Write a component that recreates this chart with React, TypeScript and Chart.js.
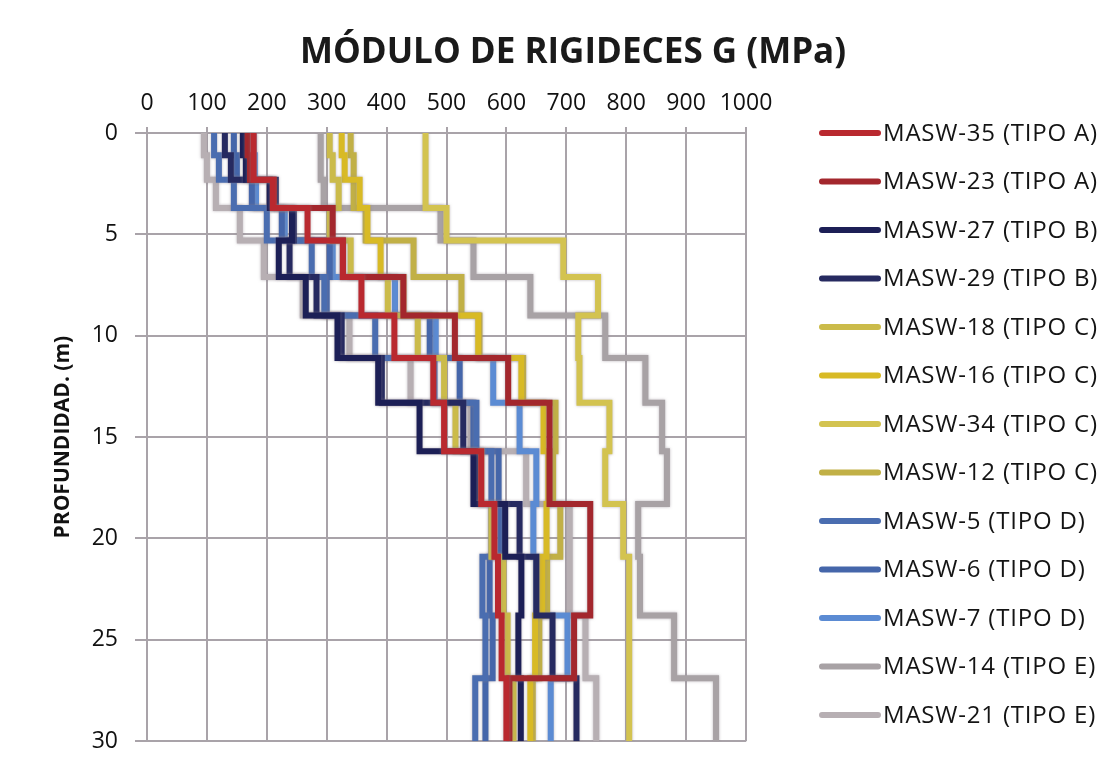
import React, { useEffect, useRef } from "react";
import { Chart, registerables } from "chart.js";

Chart.register(...registerables);

const TITLE = "MÓDULO DE RIGIDECES G (MPa)";
const Y_TITLE = "PROFUNDIDAD. (m)";

// layer boundaries (m) shared by every profile
const DEPTHS = [0, 1.1, 2.3, 3.7, 5.3, 7.1, 9.0, 11.1, 13.3, 15.7, 18.3, 20.9, 23.8, 26.9, 30];

// shear modulus G (MPa) per layer
const masw35 = [178, 178, 210, 268, 327, 358, 413, 478, 496, 558, 580, 586, 592, 600];
const masw23 = [168, 172, 212, 310, 327, 428, 514, 603, 672, 672, 740, 740, 713, 605];
const masw27 = [160, 165, 205, 242, 220, 265, 318, 386, 455, 545, 598, 625, 620, 624];
const masw29 = [130, 140, 215, 245, 238, 283, 325, 392, 528, 548, 622, 650, 677, 717];
const masw18 = [305, 310, 320, 305, 340, 402, 452, 496, 515, 558, 575, 595, 602, 612];
const masw16 = [325, 330, 355, 368, 390, 428, 553, 625, 662, 670, 667, 660, 648, 640];
const masw34 = [465, 465, 465, 500, 695, 753, 720, 722, 772, 765, 795, 805, 805, 805];
const masw12 = [340, 345, 345, 365, 445, 525, 555, 628, 682, 678, 690, 668, 655, 644];
const masw5 = [112, 120, 145, 200, 275, 296, 381, 480, 550, 575, 575, 560, 565, 548];
const masw6 = [145, 150, 175, 225, 305, 300, 472, 522, 545, 587, 590, 572, 577, 565];
const masw7 = [178, 180, 182, 230, 310, 414, 482, 578, 622, 650, 645, 650, 702, 674];
const masw14 = [290, 290, 295, 490, 545, 640, 765, 832, 860, 868, 820, 823, 880, 950];
const masw21 = [95, 100, 115, 155, 195, 260, 338, 440, 540, 633, 705, 706, 732, 750];

const SERIES_LABELS = [
  "MASW-35 (TIPO A)",
  "MASW-23 (TIPO A)",
  "MASW-27 (TIPO B)",
  "MASW-29 (TIPO B)",
  "MASW-18 (TIPO C)",
  "MASW-16 (TIPO C)",
  "MASW-34 (TIPO C)",
  "MASW-12 (TIPO C)",
  "MASW-5 (TIPO D)",
  "MASW-6 (TIPO D)",
  "MASW-7 (TIPO D)",
  "MASW-14 (TIPO E)",
  "MASW-21 (TIPO E)",
];
const SERIES_VALUES = [
  masw35, masw23, masw27, masw29, masw18, masw16, masw34, masw12,
  masw5, masw6, masw7, masw14, masw21,
];
const SERIES_COLORS = [
  "#b9292f", "#a3272d", "#1c1f56", "#262a60",
  "#cbbb4a", "#d8ba25", "#d3c350", "#c1b046",
  "#4a6db0", "#4566aa", "#5b8bd3", "#a8a2a5", "#b7afb3",
];

// turn layer values into a stepped depth profile
function stepProfile(values: number[]) {
  const pts: { x: number; y: number }[] = [];
  values.forEach((v, i) => {
    pts.push({ x: v, y: DEPTHS[i] });
    pts.push({ x: v, y: DEPTHS[i + 1] });
  });
  return pts;
}

const FONT = '"Open Sans", "DejaVu Sans", sans-serif';

const sideLegend = {
  id: "sideLegend",
  afterDraw(chart: any) {
    const ctx = chart.ctx as any;
    ctx.save();
    chart.data.datasets.forEach((ds: any, i: number) => {
      const y = 133 + i * 48.5;
      ctx.strokeStyle = ds.borderColor;
      ctx.lineWidth = 6;
      ctx.lineCap = "round";
      ctx.beginPath();
      ctx.moveTo(822, y);
      ctx.lineTo(878, y);
      ctx.stroke();
      ctx.fillStyle = "#141414";
      ctx.font = `24px ${FONT}`;
      ctx.letterSpacing = "0.8px";
      ctx.textAlign = "left";
      ctx.textBaseline = "middle";
      ctx.fillText(ds.label, 883, y + 1);
    });
    ctx.letterSpacing = "0px";
    ctx.fillStyle = "#1a1a1a";
    ctx.font = `bold 35px ${FONT}`;
    ctx.textAlign = "center";
    ctx.textBaseline = "alphabetic";
    ctx.fillText(TITLE, 573, 63);
    ctx.restore();
  },
};

const lineHalo = {
  id: "lineHalo",
  beforeDatasetsDraw(chart: any) {
    const ctx = chart.ctx as CanvasRenderingContext2D;
    ctx.save();
    ctx.shadowColor = "rgba(140,130,140,0.6)";
    ctx.shadowBlur = 3;
  },
  afterDatasetsDraw(chart: any) {
    chart.ctx.restore();
  },
};

export default function App() {
  const canvasRef = useRef<HTMLCanvasElement | null>(null);

  useEffect(() => {
    if (!canvasRef.current) return;
    const gridColor = "#a9a3a9";
    const chart = new Chart(canvasRef.current, {
      type: "scatter",
      data: {
        datasets: SERIES_LABELS.map((label, i) => ({
          label,
          data: stepProfile(SERIES_VALUES[i]),
          showLine: true,
          borderColor: SERIES_COLORS[i],
          backgroundColor: SERIES_COLORS[i],
          borderWidth: 6,
          pointRadius: 0,
          pointHoverRadius: 0,
          tension: 0,
          borderJoinStyle: "miter",
          borderCapStyle: "butt",
        })),
      },
      options: {
        responsive: false,
        animation: false,
        devicePixelRatio: 1,
        layout: { padding: { left: 0, top: 0, right: 374, bottom: 29 } },
        plugins: {
          legend: { display: false },
          tooltip: { enabled: false },
          title: { display: false },
        },
        scales: {
          x: {
            type: "linear",
            position: "top",
            min: 0,
            max: 1000,
            ticks: {
              stepSize: 100,
              padding: 10,
              maxRotation: 0,
              minRotation: 0,
              autoSkip: false,
              color: "#111",
              font: { family: FONT, size: 23 },
              callback: (v: any) => String(v),
            },
            grid: { color: gridColor, lineWidth: 2, tickLength: 6 },
            border: { color: gridColor, width: 2 },
            afterFit: (scale: any) => {
              scale.height = 133;
            },
          },
          y: {
            type: "linear",
            reverse: true,
            min: 0,
            max: 30,
            ticks: {
              stepSize: 5,
              padding: 17,
              color: "#111",
              font: { family: FONT, size: 23 },
            },
            grid: { color: gridColor, lineWidth: 2, tickLength: 12 },
            border: { color: gridColor, width: 2 },
            title: {
              display: true,
              text: Y_TITLE,
              color: "#111",
              font: { family: FONT, size: 21, weight: "bold" },
              padding: { top: 50, bottom: 0 },
            },
            afterFit: (scale: any) => {
              scale.width = 147;
            },
          },
        },
      },
      plugins: [lineHalo, sideLegend],
    } as any);
    return () => chart.destroy();
  }, []);

  return (
    <div style={{ position: "absolute", left: 0, top: 0, width: 1120, height: 772, background: "#fff" }}>
      <canvas ref={canvasRef} width={1120} height={772} />
    </div>
  );
}
